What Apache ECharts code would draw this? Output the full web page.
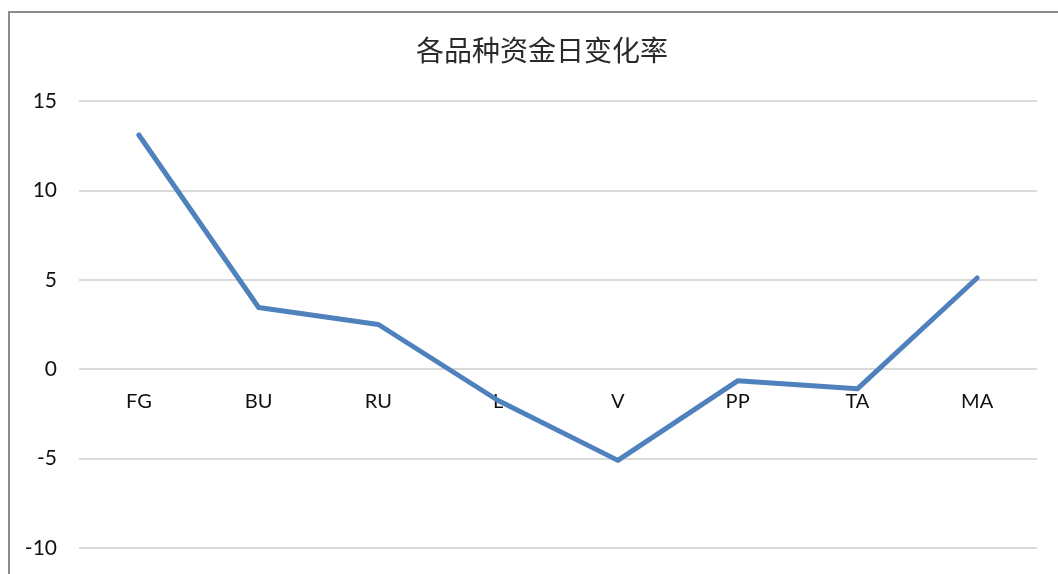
<!DOCTYPE html>
<html>
<head>
<meta charset="utf-8">
<script src="https://cdn.jsdelivr.net/npm/echarts@6/dist/echarts.min.js"></script>
<style>
html,body{margin:0;padding:0;background:#fff;}
#frame{position:absolute;left:8px;top:11px;width:1100px;height:600px;border-left:2px solid #8c8c8c;border-top:2px solid #8c8c8c;box-sizing:border-box;}
#chart{position:absolute;left:0;top:0;width:1058px;height:574px;}
</style>
</head>
<body>
<div id="frame"></div>
<div id="chart"></div>
<script>
var categories = ['FG', 'BU', 'RU', 'L', 'V', 'PP', 'TA', 'MA'];
var values = [13.1, 3.45, 2.5, -1.75, -5.1, -0.65, -1.1, 5.1];
var yTicks = [-10, -5, 0, 5, 10, 15];
var titleText = '各品种资金日变化率';

var gridTop = 101, gridBottom = 26, chartH = 574;
var yMin = yTicks[0], yMax = yTicks[yTicks.length - 1];
// distance from bottom edge of grid up to the zero line (axis placed on zero)
var plotH = chartH - gridTop - gridBottom;
var zeroOffset = -plotH * (0 - yMin) / (yMax - yMin);

var chart = echarts.init(document.getElementById('chart'));
chart.setOption({
  animation: false,
  backgroundColor: 'transparent',
  title: {
    text: titleText,
    left: 411,
    top: 31,
    textStyle: { fontFamily: 'Noto Sans CJK SC', fontSize: 28, fontWeight: 'normal', color: '#2a2a2a' }
  },
  grid: { left: 79, right: 21, top: gridTop, bottom: gridBottom, outerBoundsMode: 'none', containLabel: false },
  xAxis: {
    type: 'category',
    data: categories,
    boundaryGap: true,
    offset: zeroOffset,
    axisLine: { show: false, onZero: false },
    axisTick: { show: false },
    axisLabel: { margin: 22, fontFamily: 'Lato', fontSize: 20, color: '#111' }
  },
  yAxis: {
    type: 'value',
    min: yMin,
    max: yMax,
    interval: 5,
    axisLine: { show: false },
    axisTick: { show: false },
    axisLabel: { margin: 22, fontFamily: 'Lato', fontSize: 21, color: '#111' },
    splitLine: { lineStyle: { color: '#d9d9d9', width: 2 } }
  },
  series: [{
    type: 'line',
    data: values,
    showSymbol: false,
    symbol: 'none',
    z: 3,
    lineStyle: { color: '#4f81bd', width: 5, cap: 'round', join: 'round' }
  }]
});
</script>
</body>
</html>
